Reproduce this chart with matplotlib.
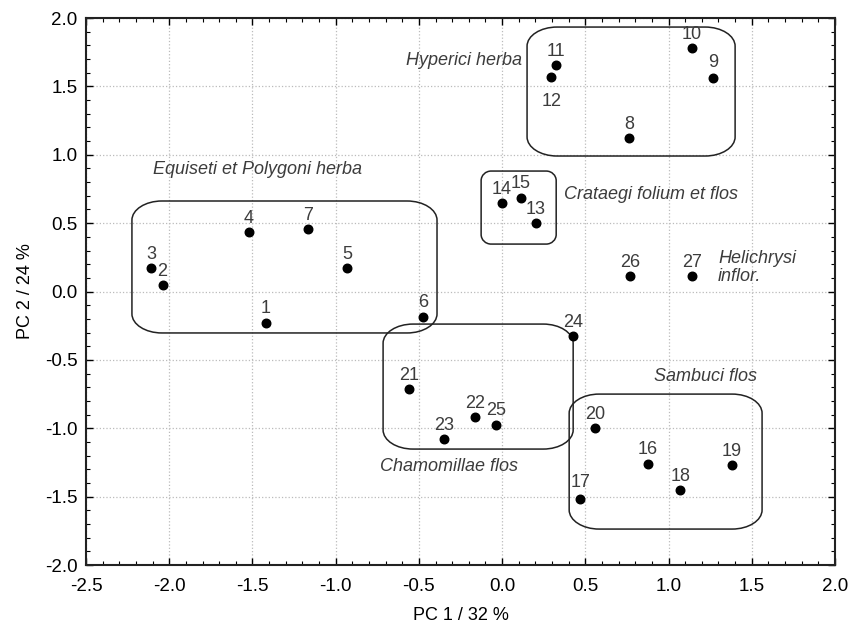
import matplotlib
matplotlib.use("Agg")
import matplotlib.pyplot as plt
from matplotlib.path import Path
from matplotlib.patches import PathPatch
from matplotlib.ticker import MultipleLocator

plt.rcParams['font.family'] = ['Liberation Sans', 'DejaVu Sans']

# ---- data ----
sample_ids = [str(i) for i in range(1, 28)]
pc1 = [-1.42, -2.04, -2.11, -1.52, -0.93, -0.475, -1.165, 0.763, 1.268, 1.142,
       0.324, 0.295, 0.204, 0.0, 0.114, 0.877, 0.469, 1.07, 1.382, 0.559,
       -0.559, -0.162, -0.349, 0.427, -0.036, 0.769, 1.142]
pc2 = [-0.23, 0.048, 0.17, 0.435, 0.17, -0.186, 0.457, 1.122, 1.561, 1.78,
       1.656, 1.569, 0.501, 0.647, 0.684, -1.261, -1.517, -1.452, -1.269, -0.998,
       -0.713, -0.918, -1.079, -0.325, -0.976, 0.113, 0.113]

group_names = ["Equiseti et Polygoni herba", "Hyperici herba", "Crataegi folium et flos",
               "Helichrysi\ninflor.", "Sambuci flos", "Chamomillae flos"]
group_text_x = [-2.097, 0.120, 0.373, 1.298, 0.913, -0.733]
group_text_y = [0.896, 1.693, 0.706, 0.175, -0.618, -1.283]

# group boxes: (left, right, bottom, top)
box_left = [-2.224, 0.150, -0.126, -0.715, 0.403]
box_right = [-0.391, 1.400, 0.325, 0.427, 1.562]
box_bottom = [-0.303, 0.991, 0.347, -1.152, -1.737]
box_top = [0.662, 1.934, 0.881, -0.238, -0.750]

x_ticks = [-2.5, -2.0, -1.5, -1.0, -0.5, 0.0, 0.5, 1.0, 1.5, 2.0]
y_ticks = [-2.0, -1.5, -1.0, -0.5, 0.0, 0.5, 1.0, 1.5, 2.0]

# ---- figure ----
fig = plt.figure(figsize=(8.6, 6.26), dpi=100)
ax = fig.add_axes([0.1, 0.0974, 0.8709, 0.8738])
ax.set_xlim(-2.5, 2.0)
ax.set_ylim(-2.0, 2.0)
ax.set_xticks(x_ticks)
ax.set_yticks(y_ticks)
ax.set_xticklabels([f"{v:.1f}" for v in x_ticks])
ax.set_yticklabels([f"{v:.1f}" for v in y_ticks])
ax.xaxis.set_minor_locator(MultipleLocator(0.1))
ax.yaxis.set_minor_locator(MultipleLocator(0.1))
ax.tick_params(which='both', direction='in', top=True, right=True, labelsize=13.5, colors='black')
ax.tick_params(which='major', length=5, width=1)
ax.tick_params(which='minor', length=3, width=0.8)
ax.tick_params(axis='x', pad=9)
ax.tick_params(axis='y', pad=6)
for s in ax.spines.values():
    s.set_linewidth(1.5)
    s.set_color('#222222')
ax.grid(True, which='major', linestyle=':', color='#bbbbbb', linewidth=0.9)
ax.set_axisbelow(True)

ax.set_xlabel("PC 1 / 32 %", fontsize=13, labelpad=9)
ax.set_ylabel("PC 2 / 24 %", fontsize=13, labelpad=8)

ax.scatter(pc1, pc2, s=38, color='black', zorder=3)

offsets = {i: (0, 14) for i in sample_ids}
offsets['12'] = (0, -25)
offsets['9'] = (0, 16)
offsets['17'] = (0, 16)
offsets['2'] = (0, 13)
offsets['24'] = (0, 13)
for lab, x, y in zip(sample_ids, pc1, pc2):
    ax.annotate(lab, (x, y), xytext=offsets[lab], textcoords='offset pixels',
                ha='center', va='center', fontsize=13, color='#3c3c3c', zorder=4)

for name, x, y in zip(group_names, group_text_x, group_text_y):
    ha = 'right' if name == "Hyperici herba" else 'left'
    ax.text(x, y, name, style='italic', fontsize=13, color='#3c3c3c',
            ha=ha, va='center', linespacing=1.05)


def rounded_box(l, r, b, t, rx, ry):
    k = 0.5523
    verts = [
        (l + rx, b), (r - rx, b),
        (r - rx + k * rx, b), (r, b + ry - k * ry), (r, b + ry),
        (r, t - ry),
        (r, t - ry + k * ry), (r - rx + k * rx, t), (r - rx, t),
        (l + rx, t),
        (l + rx - k * rx, t), (l, t - ry + k * ry), (l, t - ry),
        (l, b + ry),
        (l, b + ry - k * ry), (l + rx - k * rx, b), (l + rx, b),
    ]
    codes = [Path.MOVETO, Path.LINETO,
             Path.CURVE4, Path.CURVE4, Path.CURVE4,
             Path.LINETO,
             Path.CURVE4, Path.CURVE4, Path.CURVE4,
             Path.LINETO,
             Path.CURVE4, Path.CURVE4, Path.CURVE4,
             Path.LINETO,
             Path.CURVE4, Path.CURVE4, Path.CURVE4]
    return Path(verts, codes)


for i, (l, r, b, t) in enumerate(zip(box_left, box_right, box_bottom, box_top)):
    if i == 2:
        rx, ry = 0.06, 0.07
    else:
        rx, ry = 0.18, 0.14
    ax.add_patch(PathPatch(rounded_box(l, r, b, t, rx, ry), fill=False,
                           edgecolor='#222222', linewidth=1.1, zorder=2))

fig.savefig("out.png", dpi=100)
